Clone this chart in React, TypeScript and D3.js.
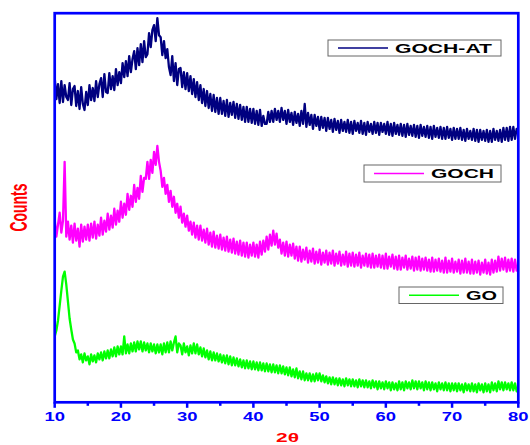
import React from "react";
import * as d3 from "d3";

// 2θ grid: 10° to 80° in 0.25° steps
const twoTheta: number[] = d3.range(0, 281).map((i) => 10 + i * 0.25);

// Diffracted intensity (arbitrary units, curves offset for stacking)
const gochAt: number[] = [
  326, 304, 319, 300, 322, 301, 318, 306, 303, 320, 298, 314, 317, 297, 312, 294,
  316, 299, 293, 311, 298, 318, 303, 315, 302, 322, 306, 319, 325, 306, 329, 311,
  310, 330, 314, 327, 313, 334, 318, 331, 320, 340, 326, 342, 327, 347, 331, 344,
  352, 334, 355, 338, 359, 341, 362, 346, 349, 370, 356, 373, 378, 362, 385, 368,
  366, 348, 362, 345, 354, 336, 328, 347, 322, 340, 318, 334, 335, 316, 331, 314,
  330, 312, 327, 309, 324, 306, 321, 303, 318, 300, 314, 297, 312, 295, 309, 292,
  308, 291, 305, 289, 305, 289, 302, 287, 303, 286, 300, 288, 301, 285, 299, 284,
  298, 283, 296, 281, 296, 281, 294, 280, 294, 279, 292, 278, 293, 277, 287, 279,
  279, 291, 281, 292, 281, 294, 283, 292, 281, 295, 283, 292, 279, 293, 281, 290,
  278, 291, 280, 289, 277, 292, 279, 299, 276, 290, 278, 288, 274, 288, 277, 286,
  273, 286, 275, 285, 272, 285, 274, 283, 271, 284, 273, 282, 270, 283, 272, 281,
  271, 283, 270, 281, 269, 282, 272, 280, 270, 282, 269, 280, 268, 281, 271, 279,
  269, 281, 270, 280, 268, 280, 271, 279, 269, 281, 268, 279, 267, 280, 269, 278,
  268, 279, 267, 278, 266, 279, 268, 277, 267, 278, 266, 277, 265, 278, 267, 276,
  266, 277, 265, 276, 264, 277, 266, 275, 265, 276, 264, 275, 264, 276, 265, 274,
  263, 275, 264, 274, 264, 275, 263, 273, 262, 274, 264, 272, 263, 274, 262, 273,
  261, 273, 263, 272, 262, 273, 261, 272, 261, 274, 263, 272, 262, 273, 261, 275,
  263, 275, 262, 276, 263, 276, 264, 274, 270,
];

const goch: number[] = [
  183, 166, 178, 190, 170, 182, 241, 166, 181, 163, 177, 160, 179, 162, 174, 156,
  178, 161, 176, 163, 178, 162, 179, 165, 181, 164, 178, 167, 185, 168, 182, 171,
  189, 173, 187, 175, 194, 178, 192, 181, 201, 185, 199, 188, 209, 193, 207, 196,
  218, 201, 215, 204, 227, 211, 225, 224, 241, 224, 243, 230, 251, 238, 257, 241,
  232, 216, 225, 209, 218, 201, 212, 196, 206, 190, 199, 185, 196, 180, 189, 176,
  187, 172, 181, 168, 180, 165, 177, 163, 177, 162, 173, 160, 174, 158, 170, 156,
  171, 155, 167, 154, 168, 153, 165, 152, 166, 151, 163, 150, 164, 149, 161, 148,
  162, 147, 160, 146, 160, 145, 158, 147, 160, 146, 158, 145, 161, 148, 162, 151,
  166, 153, 168, 157, 172, 158, 169, 155, 163, 149, 160, 147, 161, 146, 158, 147,
  159, 144, 156, 142, 156, 141, 153, 143, 155, 140, 152, 141, 154, 139, 151, 140,
  153, 138, 150, 140, 152, 138, 150, 139, 152, 137, 149, 139, 151, 137, 148, 138,
  151, 136, 149, 137, 150, 136, 148, 137, 150, 135, 147, 137, 149, 136, 148, 135,
  149, 135, 147, 136, 148, 135, 147, 134, 149, 134, 146, 136, 148, 134, 146, 133,
  147, 133, 145, 135, 147, 133, 144, 134, 146, 132, 145, 133, 146, 132, 144, 133,
  145, 132, 143, 131, 145, 131, 143, 132, 144, 131, 142, 130, 145, 130, 142, 131,
  144, 130, 141, 131, 143, 129, 142, 130, 144, 130, 141, 129, 143, 129, 141, 130,
  142, 128, 140, 130, 143, 129, 140, 128, 143, 130, 142, 131, 146, 132, 144, 133,
  145, 131, 143, 132, 144, 131, 143, 132, 138,
];

const go: number[] = [
  66, 72, 82, 97, 112, 126, 131, 118, 101, 84, 73, 63, 59, 50, 52, 43,
  48, 40, 49, 42, 46, 38, 48, 41, 47, 40, 49, 43, 50, 42, 51, 44,
  52, 44, 53, 46, 55, 46, 56, 48, 56, 48, 66, 49, 58, 49, 59, 51,
  60, 51, 61, 53, 61, 51, 60, 52, 59, 50, 59, 51, 58, 49, 58, 50,
  58, 48, 59, 50, 60, 50, 61, 52, 60, 66, 50, 59, 57, 48, 59, 50,
  56, 47, 57, 49, 59, 49, 58, 48, 55, 46, 54, 45, 52, 43, 51, 42,
  50, 42, 49, 41, 48, 40, 47, 39, 47, 38, 46, 37, 45, 37, 44, 36,
  43, 35, 42, 34, 42, 34, 41, 33, 41, 33, 40, 32, 40, 32, 39, 31,
  39, 31, 38, 30, 38, 30, 37, 29, 37, 29, 36, 28, 35, 27, 35, 26,
  33, 25, 34, 24, 31, 23, 31, 22, 29, 22, 29, 21, 28, 21, 29, 22,
  29, 21, 27, 20, 26, 19, 25, 18, 25, 18, 24, 17, 24, 17, 23, 16,
  24, 17, 23, 16, 23, 16, 22, 15, 23, 16, 22, 15, 22, 15, 21, 14,
  22, 15, 21, 13, 21, 14, 20, 13, 21, 14, 20, 12, 20, 13, 19, 12,
  21, 13, 20, 12, 21, 14, 20, 13, 22, 14, 21, 13, 21, 14, 20, 12,
  21, 13, 20, 12, 20, 13, 19, 11, 20, 13, 19, 12, 20, 12, 19, 11,
  19, 12, 19, 11, 19, 12, 18, 10, 19, 12, 18, 11, 19, 11, 18, 10,
  19, 12, 18, 10, 19, 11, 18, 10, 20, 12, 19, 11, 21, 13, 20, 12,
  20, 13, 19, 12, 20, 12, 19, 11, 16,
];

const majorTicks: number[] = [10, 20, 30, 40, 50, 60, 70, 80];
const minorTicks: number[] = [15, 25, 35, 45, 55, 65, 75];

const seriesNames: string[] = ["GOCH-AT", "GOCH", "GO"];
const seriesColors: string[] = ["#000080", "#ff00ff", "#00ff00"];

const W = 530;
const H = 445;
const left = 54.7;
const right = 518.3;
const top = 13.2;
const bottom = 402.3;
const axisBlue = "#0000ff";
const font = "'Liberation Sans', Arial, sans-serif";

// legend boxes: [x, y, width, height, text width]
const legendBoxes: number[][] = [
  [328, 40, 173, 16, 97],
  [364, 165, 137, 17, 63],
  [399, 287, 104, 16.5, 31],
];

export default function App() {
  const x = d3.scaleLinear().domain([10, 80]).range([left, right]);
  const y = d3.scaleLinear().domain([0, 390]).range([bottom, top]);
  const line = d3
    .line<number>()
    .x((_, i) => x(twoTheta[i]))
    .y((v) => y(v));

  const series = [gochAt, goch, go];

  return (
    <svg
      width={W}
      height={H}
      style={{ position: "absolute", left: 0, top: 0, background: "#fff" }}
    >
      <defs>
        <clipPath id="plot">
          <rect x={left} y={top} width={right - left} height={bottom - top} />
        </clipPath>
      </defs>

      <g clipPath="url(#plot)">
        {series.map((s, k) => (
          <path
            key={seriesNames[k]}
            d={line(s) ?? ""}
            fill="none"
            stroke={seriesColors[k]}
            strokeWidth={2.3}
            strokeLinejoin="round"
          />
        ))}
      </g>

      {/* frame */}
      <rect
        x={left}
        y={top}
        width={right - left}
        height={bottom - top}
        fill="none"
        stroke={axisBlue}
        strokeWidth={2.7}
      />

      {/* bottom ticks */}
      {majorTicks.map((t) => (
        <line
          key={"M" + t}
          x1={x(t)}
          x2={x(t)}
          y1={bottom}
          y2={bottom + 5.5}
          stroke={axisBlue}
          strokeWidth={2.5}
        />
      ))}
      {minorTicks.map((t) => (
        <line
          key={"m" + t}
          x1={x(t)}
          x2={x(t)}
          y1={bottom}
          y2={bottom + 3.5}
          stroke={axisBlue}
          strokeWidth={2.5}
        />
      ))}
      {majorTicks.map((t) => (
        <text
          key={"L" + t}
          x={x(t)}
          y={421}
          textAnchor="middle"
          fontFamily={font}
          fontWeight="bold"
          fontSize={12}
          fill={axisBlue}
          textLength={20.5}
          lengthAdjust="spacingAndGlyphs"
        >
          {t}
        </text>
      ))}

      {/* axis titles */}
      <text
        x={287.5}
        y={442}
        textAnchor="middle"
        fontFamily={font}
        fontWeight="bold"
        fontSize={13.5}
        fill="#ff0000"
        textLength={23}
        lengthAdjust="spacingAndGlyphs"
      >
        2θ
      </text>
      <text
        transform="translate(26.5,207.5) rotate(-90)"
        textAnchor="middle"
        fontFamily={font}
        fontWeight="bold"
        fontSize={23}
        fill="#ff0000"
        textLength={48}
        lengthAdjust="spacingAndGlyphs"
      >
        Counts
      </text>

      {/* legends */}
      {legendBoxes.map(([bx, by, bw, bh, tw], k) => (
        <g key={"leg" + k}>
          <rect
            x={bx}
            y={by}
            width={bw}
            height={bh}
            fill="#fff"
            stroke="#666"
            strokeWidth={1}
          />
          <line
            x1={bx + 10}
            x2={bx + 60}
            y1={by + bh / 2}
            y2={by + bh / 2}
            stroke={seriesColors[k]}
            strokeWidth={1.5}
          />
          <text
            x={bx + 67}
            y={by + bh / 2 + 4.8}
            fontFamily={font}
            fontWeight="bold"
            fontSize={12.5}
            fill="#000"
            textLength={tw}
            lengthAdjust="spacingAndGlyphs"
          >
            {seriesNames[k]}
          </text>
        </g>
      ))}
    </svg>
  );
}
